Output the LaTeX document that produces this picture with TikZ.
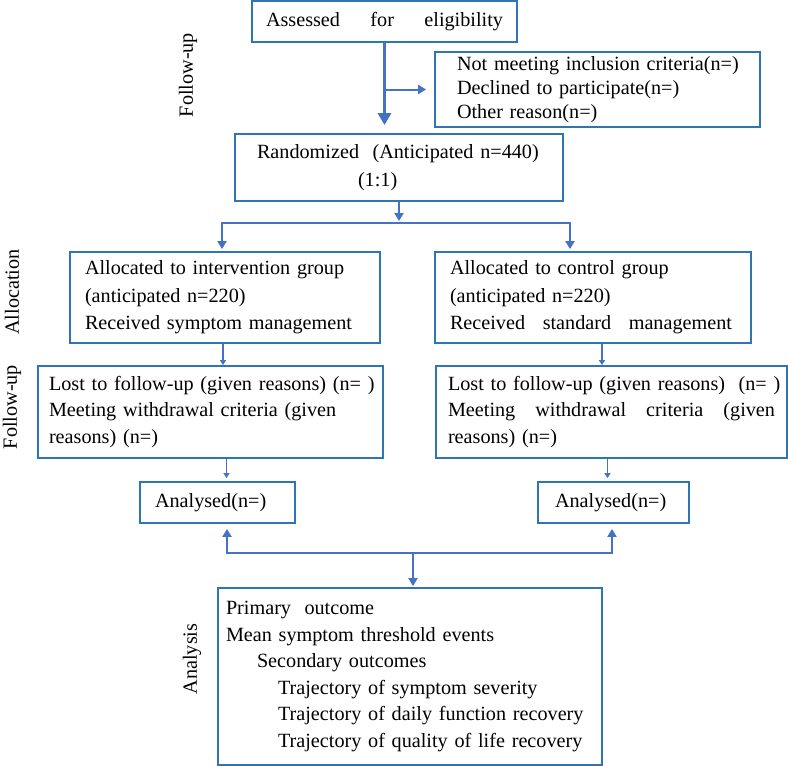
\documentclass[tikz,border=0pt]{standalone}
\usepackage{fontspec}
\setmainfont{Liberation Serif}
\usetikzlibrary{arrows.meta, positioning}
\definecolor{boxblue}{RGB}{46,117,182}
\definecolor{arrowblue}{RGB}{68,114,196}
\tikzstyle{trial}=[x=1pt, y=-1pt, font=\fontsize{20.2}{26.6}\selectfont]
\tikzstyle{stage}=[draw=boxblue, line width=1.8pt, rectangle, inner ysep=0pt, align=left]
\tikzstyle{sidelabel}=[rotate=90, inner sep=0pt]
\tikzstyle{joint}=[draw=arrowblue, line width=2pt, line cap=rect]
\tikzstyle{flow}=[draw=arrowblue, line width=2pt, -{Triangle[length=8pt,width=9pt]}]
\tikzstyle{thinflow}=[draw=arrowblue, line width=1.2pt, -{Triangle[length=5pt,width=6pt]}]
\tikzstyle{mainflow}=[draw=arrowblue, line width=3pt, -{Triangle[length=12pt,width=13pt]}]

\begin{document}
\begin{tikzpicture}[trial]
  \useasboundingbox (0,0) rectangle (788,766);

  % enrolment
  \node[stage, minimum width=265, minimum height=41] (assess) at (384.5,21.5)
    {\makebox[237pt][s]{Assessed\hfill for\hfill eligibility}};
  \node[stage, minimum width=325, minimum height=75, text width=281pt, inner xsep=22pt,
        font=\fontsize{20.2}{24}\selectfont] (excl) at (597.5,89.5)
    {\mbox{Not meeting inclusion criteria(n=)}\\Declined to participate(n=)\\Other reason(n=)};
  \node[stage, minimum width=328, minimum height=67, text width=284pt, inner xsep=22pt,
        font=\fontsize{20.2}{28}\selectfont] (rand) at (399,167.5)
    {\mbox{Randomized~~(Anticipated n=440)}\\\hspace*{101pt}(1:1)};

  % allocation
  \node[stage, minimum width=310, minimum height=91, text width=280pt, inner xsep=15pt,
        font=\fontsize{20.2}{27.5}\selectfont] (allocL) at (225,297.5)
    {Allocated to intervention group\\(anticipated n=220)\\Received symptom management};
  \node[stage, minimum width=316, minimum height=91, text width=286pt, inner xsep=15pt,
        font=\fontsize{20.2}{27.5}\selectfont] (allocR) at (593,297.5)
    {Allocated to control group\\(anticipated n=220)\\\makebox[282pt][s]{Received\hfill standard\hfill management}};

  % follow-up
  \node[stage, minimum width=345, minimum height=92, text width=323pt, inner xsep=11pt,
        font=\fontsize{20.2}{26.5}\selectfont] (fuL) at (210.5,412)
    {\mbox{Lost to follow-up (given reasons) (n=~)}\\Meeting withdrawal criteria (given\\reasons) (n=)};
  \node[stage, minimum width=351, minimum height=92, text width=327pt, inner xsep=12pt,
        font=\fontsize{20.2}{26.5}\selectfont] (fuR) at (611.5,412)
    {\mbox{Lost to follow-up (given reasons)~~(n=~)}\\\makebox[327pt][s]{Meeting\hfill withdrawal\hfill criteria\hfill (given}\\reasons) (n=)};

  % analysis
  \node[stage, minimum width=155, minimum height=41, text width=125pt, inner xsep=15pt] (anL) at (217.5,502.5)
    {Analysed(n=)};
  \node[stage, minimum width=151, minimum height=41, text width=117pt, inner xsep=17pt] (anR) at (613.5,502.5)
    {Analysed(n=)};
  \node[stage, minimum width=384, minimum height=177, text width=368pt, inner xsep=8pt] (analysis) at (410,676.5)
    {Primary~~outcome\\Mean symptom threshold events\\\hspace*{31pt}Secondary outcomes\\
     \hspace*{52pt}Trajectory of symptom severity\\\hspace*{52pt}Trajectory of daily function recovery\\
     \hspace*{52pt}Trajectory of quality of life recovery};

  % stage labels
  \node[sidelabel] (labFollowTop) at (188,75)  {Follow-up};
  \node[sidelabel] (labAlloc)     at (12,292)  {Allocation};
  \node[sidelabel] (labFollow)    at (12,407)  {Follow-up};
  \node[sidelabel] (labAnalysis)  at (192,659) {Analysis};

  % connectors
  \coordinate (splitL) at (222,223);
  \coordinate (splitR) at (570,223);
  \coordinate (joinL) at (227,553);
  \coordinate (joinR) at (612,553);
  \coordinate (joinC) at (413,553);

  \draw[mainflow, shorten >=8pt] (assess.south) -- (assess.south |- rand.north);
  \draw[flow, shorten >=8pt] (assess.south |- excl.west) -- (excl.west);
  \draw[flow, shorten >=2pt] (rand.south) -- (rand.south |- splitL);
  \draw[joint] (splitL) -- (splitR);
  \draw[flow, shorten >=2pt] (splitL) -- (splitL |- allocL.north);
  \draw[flow, shorten >=2pt] (splitR) -- (splitR |- allocR.north);
  \draw[thinflow] ([xshift=-2pt]allocL.south) -- ([xshift=-2pt]allocL.south |- fuL.north);
  \draw[thinflow] ([xshift=9pt]allocR.south) -- ([xshift=9pt]allocR.south |- fuR.north);
  \draw[thinflow, shorten >=3pt] ([xshift=9pt]anL.north |- fuL.south) -- ([xshift=9pt]anL.north);
  \draw[thinflow, shorten >=3pt] ([xshift=-6pt]anR.north |- fuR.south) -- ([xshift=-6pt]anR.north);
  \draw[joint] (joinL) -- (joinR);
  \draw[flow, shorten >=5pt] (joinL) -- (joinL |- anL.south);
  \draw[flow, shorten >=5pt] (joinR) -- (joinR |- anR.south);
  \draw[flow, shorten >=1pt] (joinC) -- (joinC |- analysis.north);
\end{tikzpicture}
\end{document}
